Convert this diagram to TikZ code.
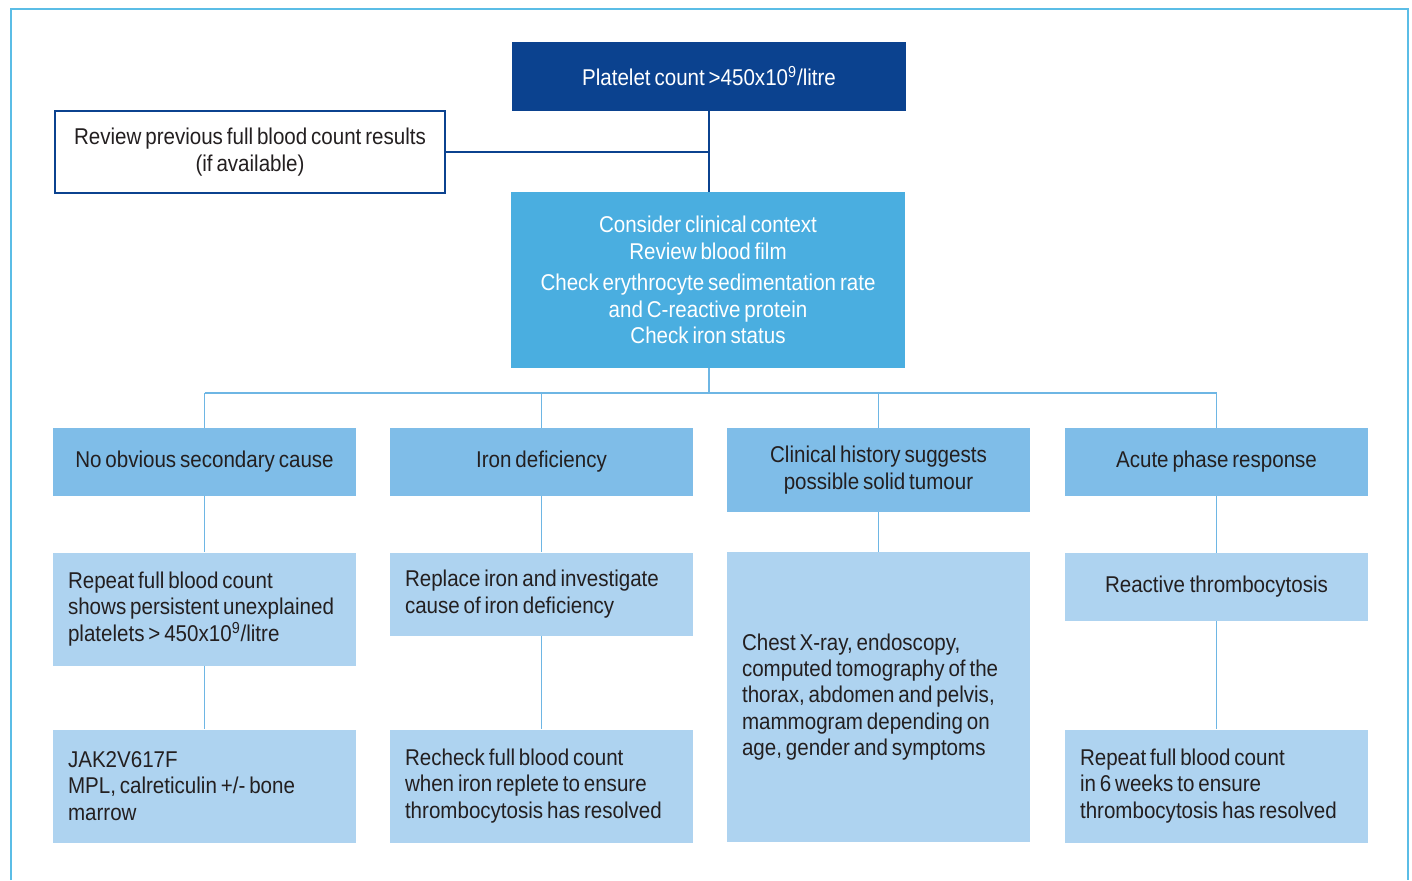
\documentclass[tikz,border=0pt]{standalone}
\usepackage{fontspec}
\setmainfont{Liberation Sans}[FakeStretch=0.9]
\usepackage{tikz}
\usetikzlibrary{positioning}
\definecolor{darkbox}{RGB}{11,66,143}
\definecolor{ctxbox}{RGB}{74,174,224}
\definecolor{midbox}{RGB}{127,189,232}
\definecolor{lightbox}{RGB}{174,211,240}
\definecolor{framecol}{RGB}{91,189,230}
\definecolor{linecol}{RGB}{110,182,228}
\definecolor{txt}{RGB}{35,31,32}
\newcommand{\boxfont}{\fontsize{13}{15}\selectfont}
\newcommand{\tightspace}{\spaceskip=2.2pt plus 1pt minus 0.5pt\relax\hyphenpenalty=10000\relax}

\begin{document}
\begin{tikzpicture}[x=0.02cm,y=-0.02cm,
		every node/.style={font=\boxfont,inner sep=0pt,execute at begin node=\tightspace},
		topbox/.style={fill=darkbox,text=white,minimum width=7.88cm,minimum height=1.38cm,align=center},
		revbox/.style={draw=darkbox,line width=1.3pt,fill=white,text=txt,minimum width=7.8cm,minimum height=1.64cm,align=center},
		ctxbox/.style={fill=ctxbox,text=white,minimum width=7.88cm,minimum height=3.52cm,align=center},
		causebox/.style={fill=midbox,text=txt,minimum width=6.06cm,minimum height=1.36cm,align=center},
		stepbox/.style={fill=lightbox,text=txt,minimum width=6.06cm,text width=5.46cm,align=left},
		darkline/.style={draw=darkbox,line width=0.6pt},
		lightline/.style={draw=linecol,line width=0.8pt}]
			\useasboundingbox (0,0) rectangle (1412,880);
			\draw[framecol,line width=1.2pt] (11,880)--(11,9)--(1408,9)--(1408,880);
			
			\node [topbox] (plt) at (709,76) {Platelet count >450x10\textsuperscript{9}/litre};
			\node [revbox] (rev) at (250,152) {Review previous full blood count results\\(if available)};
			\node [ctxbox] (ctx) at (708,280) {Consider clinical context\\Review blood film\\[3pt]Check erythrocyte sedimentation rate\\and C-reactive protein\\Check iron status};
			
			\node [causebox] (nocause) at (204.5,462) {No obvious secondary cause};
			\node [causebox] (iron) at (541.5,462) {Iron deficiency};
			\node [causebox,minimum height=1.68cm] (tumour) at (878.5,470) {Clinical history suggests\\possible solid tumour};
			\node [causebox] (acute) at (1216.5,462) {Acute phase response};
			
			\node [stepbox,minimum height=2.26cm] (repeat) at (204.5,609) {Repeat full blood count\\shows persistent unexplained\\platelets > 450x10\textsuperscript{9}/litre};
			\node [stepbox,minimum height=1.66cm] (replace) at (541.5,594) {Replace iron and investigate\\cause of iron deficiency};
			\node [stepbox,minimum height=5.8cm] (scan) at (878.5,697) {Chest X-ray, endoscopy,\\computed tomography of the\\thorax, abdomen and pelvis,\\mammogram depending on\\age, gender and symptoms};
			\node [stepbox,align=center,minimum height=1.36cm] (reactive) at (1216.5,587) {Reactive thrombocytosis};
			
			\node [stepbox,minimum height=2.26cm] (jak) at (204.5,786) {JAK2V617F\\MPL, calreticulin +/- bone\\marrow};
			\node [stepbox,minimum height=2.26cm] (recheck) at (541.5,786) {Recheck full blood count\\when iron replete to ensure\\thrombocytosis has resolved};
			\node [stepbox,minimum height=2.26cm] (sixweeks) at (1216.5,786) {Repeat full blood count\\in 6 weeks to ensure\\thrombocytosis has resolved};
			
			\draw[darkline] (plt.south)--(ctx.north-|plt.south);
			\draw[darkline] (rev.east)--(rev.east-|plt.south);
			
			\coordinate (bus) at (709,393);
			\draw[lightline] (ctx.south-|bus)--(bus);
			\draw[lightline] (nocause.north|-bus)--(acute.north|-bus);
			\foreach \c in {nocause,iron,tumour,acute}
				\draw[lightline] (\c.north|-bus)--(\c.north);
			
			\draw[lightline] (nocause.south)--(repeat.north);
			\draw[lightline] (repeat.south)--(jak.north);
			\draw[lightline] (iron.south)--(replace.north);
			\draw[lightline] (replace.south)--(recheck.north);
			\draw[lightline] (tumour.south)--(scan.north);
			\draw[lightline] (acute.south)--(reactive.north);
			\draw[lightline] (reactive.south)--(sixweeks.north);
		\end{tikzpicture}
\end{document}
